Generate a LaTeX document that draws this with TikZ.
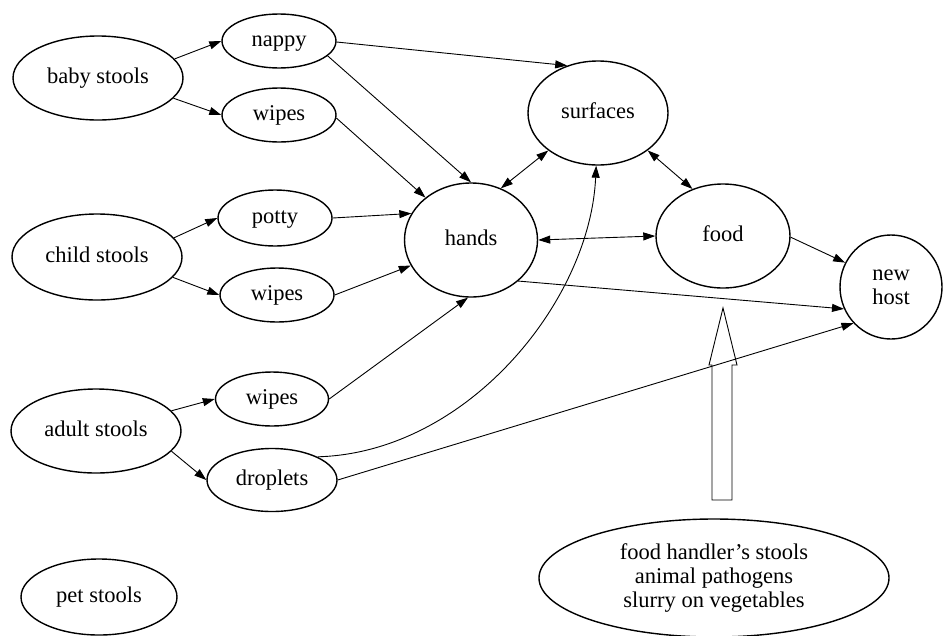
\documentclass[tikz,border=0pt]{standalone}
\usepackage{fontspec}
\setmainfont{Liberation Serif}
\usetikzlibrary{shapes.geometric,arrows.meta}
\begin{document}
\begin{tikzpicture}[x=1pt,y=-1pt,
  bub/.style={draw,ellipse,line width=1.4pt,inner sep=0pt,align=center,
    font=\fontsize{22.5}{24}\selectfont},
  one/.style={bub,text height=14.5pt,text depth=4pt},
  con/.style={line width=0.9pt,-{Triangle[length=12pt,width=8pt]}},
  dcon/.style={line width=0.9pt,{Triangle[length=12pt,width=8pt]}-{Triangle[length=12pt,width=8pt]}}]
\useasboundingbox (0,0) rectangle (944,635);
% nodes
\node[one,minimum width=170pt,minimum height=84pt] (baby) at (98,78) {baby stools};
\node[one,minimum width=114pt,minimum height=54pt] (nappy) at (279,41) {nappy};
\node[one,minimum width=114pt,minimum height=54pt] (wa) at (279,115) {wipes};
\node[one,minimum width=140pt,minimum height=104pt] (surf) at (598,113) {surfaces};
\node[one,minimum width=133pt,minimum height=114pt] (hands) at (471,240) {hands};
\node[one,minimum width=134pt,minimum height=104pt] (food) at (723,236) {food};
\node[bub,minimum width=102pt,minimum height=104pt] (host) at (891,287) {new\\host};
\node[one,minimum width=170pt,minimum height=86pt] (child) at (97,257) {child stools};
\node[one,minimum width=114pt,minimum height=56pt] (potty) at (275,218) {potty};
\node[one,minimum width=114pt,minimum height=54pt] (wb) at (277,295) {wipes};
\node[one,minimum width=170pt,minimum height=84pt] (adult) at (96,431) {adult stools};
\node[one,minimum width=113pt,minimum height=54pt] (wc) at (272,399) {wipes};
\node[one,minimum width=130pt,minimum height=63pt] (drop) at (272,480) {droplets};
\node[one,minimum width=156pt,minimum height=76pt] (pet) at (99,597) {pet stools};
\node[bub,minimum width=350pt,minimum height=118pt] (src) at (714,578)
  {food handler's stools\\animal pathogens\\slurry on vegetables};
% connectors
\draw[con] (baby.14) -- (nappy.180);
\draw[con] (baby.-15) -- (wa.180);
\draw[con] (nappy.-1) -- (surf.123);
\draw[con] (nappy.-17) -- (hands.90);
\draw[con] (wa.-3) -- (hands.137);
\draw[con] (child.14) -- (potty.180);
\draw[con] (child.-15) -- (wb.180);
\draw[con] (potty.0) -- (hands.156);
\draw[con] (wb.0) -- (hands.203);
\draw[con] (adult.15) -- (wc.180);
\draw[con] (adult.-15) -- (drop.180);
\draw[con] (wc.0) -- (hands.267);
\draw[dcon] (hands.60) -- (surf.217);
\draw[dcon] (surf.-37) -- (food.123);
\draw[dcon] (hands.0) -- (food.180);
\draw[con] (food.-1) -- (host.152);
\draw[con] (hands.-41) -- (host.205);
\draw[con] (drop.0) -- (host.224);
\draw[con] (drop.27) .. controls +(150,-4) and +(-6,135) .. (surf.268);
% hollow arrow
\draw[line width=0.9pt] (712,500) -- (732,500) -- (732,365) -- (737,365) -- (723,308)
  -- (709,365) -- (712,365) -- cycle;
\end{tikzpicture}
\end{document}
